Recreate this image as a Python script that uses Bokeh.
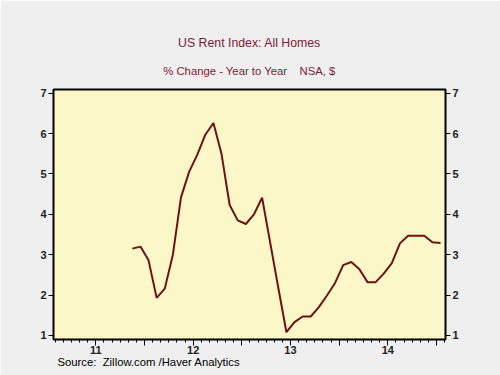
from bokeh.plotting import figure
from bokeh.models import Range1d, LinearAxis, FixedTicker, Title
from bokeh.embed import file_html
from bokeh.resources import INLINE

# Monthly observations, Nov 2011 .. Jan 2015
start_year, start_month = 2011, 11
values = [3.15, 3.20, 2.86, 1.93, 2.16, 3.00, 4.42, 5.05, 5.47, 5.97, 6.26, 5.49,
          4.23, 3.85, 3.76, 4.00, 4.41, 3.30, 2.18, 1.08, 1.33, 1.47, 1.47, 1.70,
          1.99, 2.30, 2.74, 2.82, 2.64, 2.32, 2.32, 2.53, 2.79, 3.28, 3.47, 3.47,
          3.47, 3.31, 3.29]
year_labels = ["11", "12", "13", "14"]
label_years = [2011, 2012, 2013, 2014]
y_ticks = [1, 2, 3, 4, 5, 6, 7]

NB = "\u00a0"
title_text = "US Rent Index: All Homes"
subtitle_text = "% Change - Year to Year" + NB * 4 + "NSA, $"
source_text = "Source:" + NB * 2 + "Zillow.com /Haver Analytics"

# x positions at mid-month in fractional years
xs = [start_year + (start_month - 1 + i + 0.5) / 12.0 for i in range(len(values))]

TITLE_COLOR = "#7B1C34"
LINE_COLOR = "#6E1212"
BG = "#EFEFEF"
PLOT_BG = "#FBF7C9"

p = figure(width=500, height=375, output_backend="svg", toolbar_location=None,
           x_range=Range1d(2011.065, 2015.093), y_range=Range1d(0.90, 7.09),
           min_border_left=53, min_border_right=55, min_border_top=89, min_border_bottom=36,
           background_fill_color=PLOT_BG, border_fill_color=BG)
p.title.visible = False
p.xaxis.visible = False
p.yaxis.visible = False
p.xgrid.visible = False
p.ygrid.visible = False
p.outline_line_color = "black"
p.outline_line_width = 2
p.outline_line_alpha = 1.0

p.line(xs, values, line_color=LINE_COLOR, line_width=2)

# bottom axis
mid_ticks = [y + 0.5 for y in label_years]
bound_ticks = [2012, 2013, 2014, 2015]
minor = []
for y in range(2011, 2016):
    for m in range(12):
        v = y + m / 12.0
        if m not in (0, 6) and 2011.065 <= v <= 2015.093:
            minor.append(v)
overrides = {t: lab for t, lab in zip(mid_ticks, year_labels)}
for t in bound_ticks:
    overrides[t] = ""
xax = LinearAxis(ticker=FixedTicker(ticks=sorted(mid_ticks + bound_ticks), minor_ticks=minor),
                 major_label_overrides=overrides)
xax.axis_line_color = None
xax.major_tick_line_color = "black"
xax.minor_tick_line_color = "black"
xax.major_tick_out = 6
xax.major_tick_in = 0
xax.minor_tick_out = 3
xax.minor_tick_in = 0
xax.major_label_standoff = 0
xax.major_label_text_font = "Liberation Sans"
xax.major_label_text_font_size = "11px"
xax.major_label_text_font_style = "bold"
xax.major_label_text_color = "#222222"
p.add_layout(xax, "below")

for side in ("left", "right"):
    yax = LinearAxis(ticker=FixedTicker(ticks=y_ticks, minor_ticks=[]))
    yax.axis_line_color = None
    yax.major_tick_line_color = "black"
    yax.major_tick_out = 5
    yax.major_tick_in = 0
    yax.major_label_standoff = 2
    yax.major_label_text_font = "Liberation Sans"
    yax.major_label_text_font_size = "11px"
    yax.major_label_text_font_style = "bold"
    yax.major_label_text_color = "#222222"
    p.add_layout(yax, side)

p.add_layout(Title(text=subtitle_text, align="center", text_color=TITLE_COLOR,
                   text_font="Liberation Sans", text_font_size="11.3px",
                   text_font_style="normal", standoff=26), "above")
p.add_layout(Title(text=title_text, align="center", text_color=TITLE_COLOR,
                   text_font="Liberation Sans", text_font_size="12.3px",
                   text_font_style="normal", standoff=0), "above")
p.add_layout(Title(text=source_text, align="left", offset=4, text_color="black",
                   text_font="Liberation Sans", text_font_size="11.3px",
                   text_font_style="normal", standoff=-6), "below")

open("out.html", "w").write(file_html(p, INLINE))
